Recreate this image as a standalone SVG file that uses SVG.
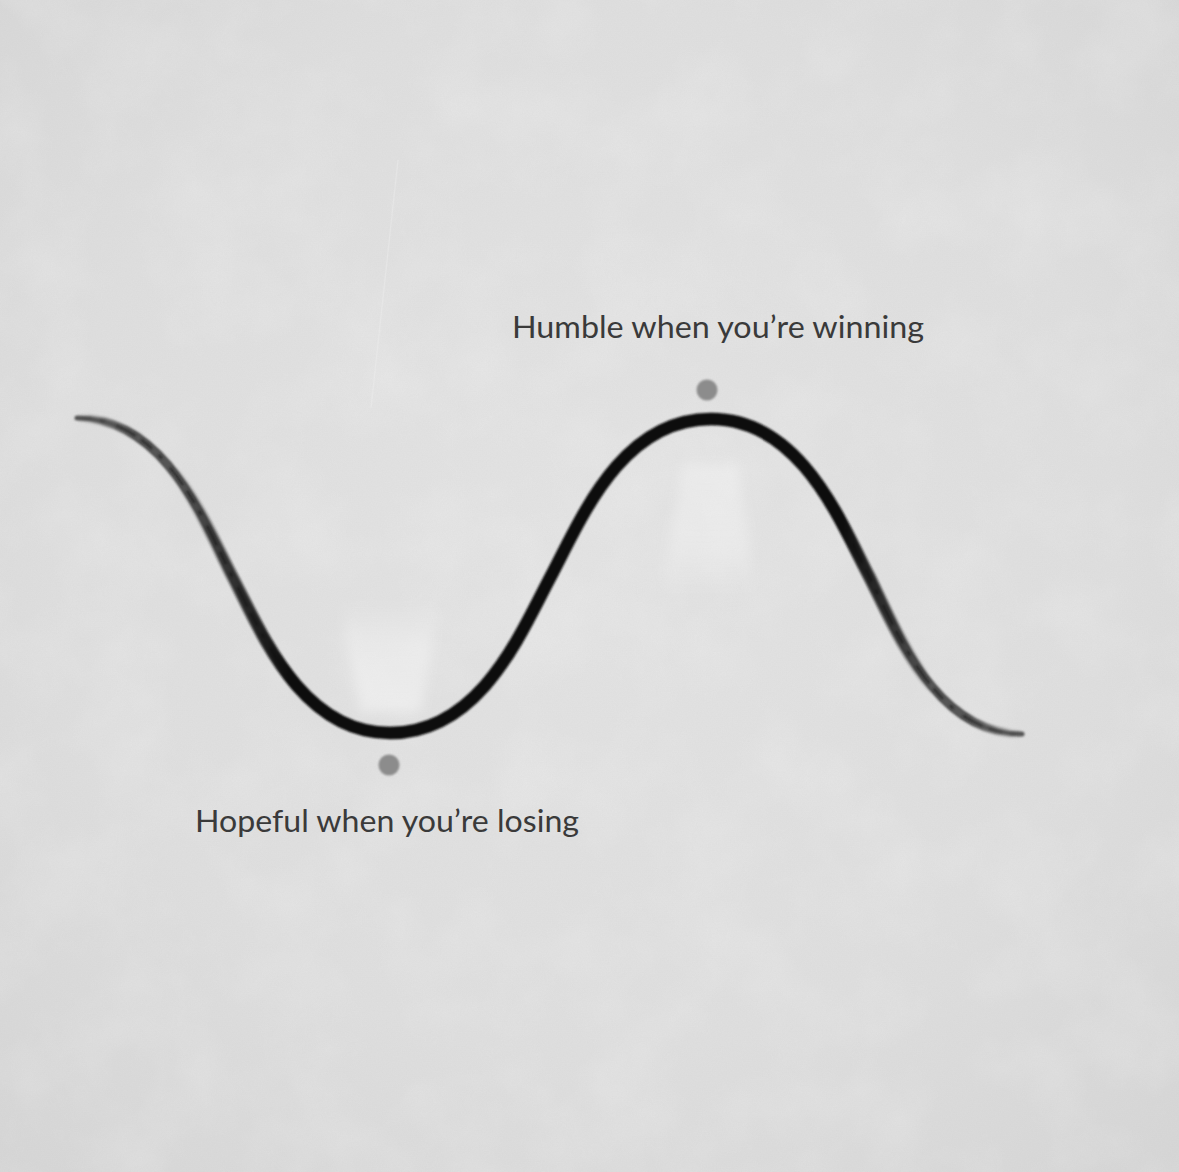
<svg xmlns="http://www.w3.org/2000/svg" xmlns:xlink="http://www.w3.org/1999/xlink" width="1179" height="1172" viewBox="0 0 1179 1172">
  <style>
    .label { font-family: "Lato", "Open Sans", "Liberation Sans", sans-serif; font-size: 30px; fill: #3a3a3a; font-weight: 400; }
    .dot { fill: #8c8c8c; }
  </style>
  <defs>
    <radialGradient id="bg" cx="0.5" cy="0.45" r="0.75">
      <stop offset="0" stop-color="#e4e4e4"/>
      <stop offset="0.6" stop-color="#dfdfdf"/>
      <stop offset="1" stop-color="#d6d6d6"/>
    </radialGradient>
    <filter id="noise" x="0" y="0" width="100%" height="100%">
      <feTurbulence type="fractalNoise" baseFrequency="0.012" numOctaves="4" seed="7" result="n"/>
      <feColorMatrix type="matrix" values="0 0 0 0 1  0 0 0 0 1  0 0 0 0 1  0 0 0 0.9 -0.35" />
    </filter>
    <filter id="grain" x="0" y="0" width="100%" height="100%">
      <feTurbulence type="fractalNoise" baseFrequency="0.8" numOctaves="2" seed="3"/>
      <feColorMatrix type="matrix" values="0 0 0 0 0.5  0 0 0 0 0.5  0 0 0 0 0.5  0 0 0 0.12 0" />
    </filter>
    <filter id="soft" x="-50%" y="-50%" width="200%" height="200%">
      <feGaussianBlur stdDeviation="0.8"/>
    </filter>
    <filter id="blur6" x="-30%" y="-30%" width="160%" height="160%">
      <feGaussianBlur stdDeviation="6"/>
    </filter>
    <linearGradient id="coneDown" x1="0" y1="0" x2="0" y2="1">
      <stop offset="0" stop-color="#ffffff" stop-opacity="0"/>
      <stop offset="0.4" stop-color="#ffffff" stop-opacity="0.3"/>
      <stop offset="1" stop-color="#ffffff" stop-opacity="0.4"/>
    </linearGradient>
    <linearGradient id="coneUp" x1="0" y1="0" x2="0" y2="1">
      <stop offset="0" stop-color="#ffffff" stop-opacity="0.3"/>
      <stop offset="0.65" stop-color="#ffffff" stop-opacity="0.25"/>
      <stop offset="1" stop-color="#ffffff" stop-opacity="0"/>
    </linearGradient>
    <linearGradient id="midMaskGrad" gradientUnits="userSpaceOnUse" x1="0" y1="0" x2="1179" y2="0">
      <stop offset="0.15" stop-color="#000"/>
      <stop offset="0.245" stop-color="#fff"/>
      <stop offset="0.715" stop-color="#fff"/>
      <stop offset="0.79" stop-color="#000"/>
    </linearGradient>
    <linearGradient id="endMaskGrad" gradientUnits="userSpaceOnUse" x1="0" y1="0" x2="1179" y2="0">
      <stop offset="0.065" stop-color="#000"/>
      <stop offset="0.115" stop-color="#fff"/>
      <stop offset="0.82" stop-color="#fff"/>
      <stop offset="0.867" stop-color="#000"/>
    </linearGradient>
    <mask id="midMask" maskUnits="userSpaceOnUse" x="0" y="0" width="1179" height="1172">
      <rect width="1179" height="1172" fill="url(#midMaskGrad)"/>
    </mask>
    <mask id="endMask" maskUnits="userSpaceOnUse" x="0" y="0" width="1179" height="1172">
      <rect width="1179" height="1172" fill="url(#endMaskGrad)"/>
    </mask>
    <path id="wave" fill="none" d="M77,418 C164.2,418 202.9,518.8 232,576 C261.6,632.8 301.1,733 390,733 C480.6,733 520.8,632.8 551,576 C581,519.2 621,419 711,419 C799.9,419 839.4,519.2 869,576 C897.7,633.2 935.9,734 1022,734"/>
  </defs>

  <g id="background">
    <rect width="1179" height="1172" fill="url(#bg)"/>
    <rect width="1179" height="1172" filter="url(#noise)" opacity="0.35"/>
    <rect width="1179" height="1172" filter="url(#grain)"/>
    <line x1="398" y1="160" x2="371" y2="408" stroke="#f2f2f2" stroke-width="1.2" opacity="0.35"/>
  </g>

  <g id="trough-light">
    <polygon points="340,600 440,600 421,712 360,712" fill="url(#coneDown)" filter="url(#blur6)"/>
  </g>
  <g id="peak-light">
    <polygon points="683,465 738,465 757,595 660,595" fill="url(#coneUp)" filter="url(#blur6)"/>
  </g>

  <g id="connectors">
    <use xlink:href="#wave" stroke="#555555" stroke-width="5" stroke-linecap="round" filter="url(#soft)"/>
    <use xlink:href="#wave" stroke="#555555" stroke-width="9" mask="url(#endMask)" filter="url(#soft)"/>
    <use xlink:href="#wave" stroke="#2e2e2e" stroke-width="2.5" stroke-dasharray="14 9 5 12 22 7" mask="url(#endMask)" filter="url(#soft)"/>
    <use xlink:href="#wave" stroke="#111111" stroke-width="12.5" mask="url(#midMask)" filter="url(#soft)"/>
  </g>

  <g id="node-peak">
    <circle class="dot" cx="707" cy="390" r="10.5" filter="url(#soft)"/>
    <text class="label" x="512" y="338" textLength="412" lengthAdjust="spacingAndGlyphs">Humble when you’re winning</text>
  </g>

  <g id="node-trough">
    <circle class="dot" cx="389" cy="765" r="10.5" filter="url(#soft)"/>
    <text class="label" x="195" y="832" textLength="384" lengthAdjust="spacingAndGlyphs">Hopeful when you’re losing</text>
  </g>
</svg>
